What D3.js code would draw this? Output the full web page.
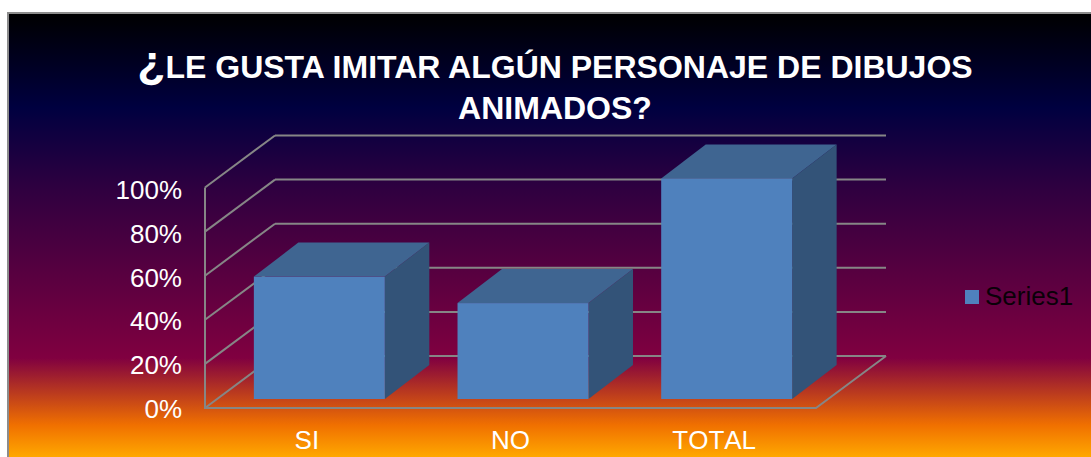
<!DOCTYPE html>
<html>
  <head>
    <title>Le gusta imitar</title>
    <script src="https://d3js.org/d3.v7.min.js"></script>
  </head>
  <style>
    html, body { margin: 0; padding: 0; background: #fff; }
    svg { display: block; }
    text { font-family: "Liberation Sans", Arial, sans-serif; font-kerning: none; }
    .title text { font-kerning: normal; }
    .domain { stroke: none; }
  </style>
  <body>
    <svg id="chart" width="1091" height="457"></svg>

    <script>
      var categories = ["SI", "NO", "TOTAL"];
      var seriesName = "Series1";
      var seriesValues = [0.555, 0.435, 1];
      var yTicks = [0, 0.2, 0.4, 0.6, 0.8, 1];
      var titleLines = ["LE GUSTA IMITAR ALGÚN PERSONAJE DE DIBUJOS", "ANIMADOS?"];

      var svg = d3.select("#chart");

      // background gradient, same stops as the slide fill
      var stops = [
        [0, "#000000"], [0.214, "#000040"], [0.4, "#300040"], [0.777, "#800040"],
        [0.928, "#f07000"], [1, "#ffa800"]
      ];
      var grad = svg.append("defs").append("linearGradient")
        .attr("id", "bg").attr("gradientUnits", "userSpaceOnUse")
        .attr("x1", 0).attr("y1", 13).attr("x2", 0).attr("y2", 457);
      stops.forEach(s => grad.append("stop").attr("offset", s[0]).attr("stop-color", s[1]));

      svg.append("rect").attr("x", 8).attr("y", 13).attr("width", 1090).attr("height", 450)
        .attr("fill", "url(#bg)").attr("stroke", "#8c8c8c").attr("stroke-width", 2);

      var xScale = d3.scaleBand().domain(categories).range([205, 816])
        .paddingInner(0.357).paddingOuter(0.1785);
      var yScale = d3.scaleLinear().domain([0, 1]).range([408, 187.5]);
      // tick labels sit a little tighter than the wall lines
      var yLabelScale = d3.scaleLinear().domain([0, 1]).range([408, 189.5]);

      // fake 3d offsets
      var wallDx = 70, wallDy = -52;
      var barDx = 44.5, barDy = -34;
      var shiftX = 12.5, shiftY = -9;

      var gridColor = "#868686";
      var line = d3.line();

      var walls = svg.append("g").attr("fill", "none").attr("stroke", gridColor).attr("stroke-width", 2);

      yTicks.forEach(t => {
        var y = yScale(t);
        // left wall
        walls.append("path").attr("d", line([[205, y], [205 + wallDx, y + wallDy]]));
        // back wall
        walls.append("path").attr("d", line([[205 + wallDx, y + wallDy], [816 + wallDx, y + wallDy]]));
      });
      walls.append("path").attr("d", line([[205, yScale(1)], [205, yScale(0)], [816, yScale(0)], [816 + wallDx, yScale(0) + wallDy]]));

      // bars, back faces first
      var bars = svg.append("g").selectAll("g").data(categories).enter().append("g");

      function front(i) {
        var x0 = xScale(categories[i]) + shiftX;
        return {
          x0: x0,
          x1: x0 + xScale.bandwidth(),
          top: yScale(seriesValues[i]) + shiftY,
          bottom: yScale(0) + shiftY
        };
      }

      bars.append("path")
        .attr("fill", "#335378")
        .attr("d", (d, i) => {
          var f = front(i);
          return line([[f.x1, f.top], [f.x1 + barDx, f.top + barDy], [f.x1 + barDx, f.bottom + barDy], [f.x1, f.bottom]]) + "Z";
        });

      bars.append("path")
        .attr("fill", "#3f6591")
        .attr("d", (d, i) => {
          var f = front(i);
          return line([[f.x0, f.top], [f.x0 + barDx, f.top + barDy], [f.x1 + barDx, f.top + barDy], [f.x1, f.top]]) + "Z";
        });

      bars.append("rect")
        .attr("fill", "#4f81bd")
        .attr("x", (d, i) => front(i).x0)
        .attr("y", (d, i) => front(i).top)
        .attr("width", xScale.bandwidth())
        .attr("height", (d, i) => front(i).bottom - front(i).top);

      var yAxis = d3.axisLeft(yLabelScale).tickValues(yTicks).tickSize(0).tickPadding(0).tickFormat(d3.format(".0%"));
      var yG = svg.append("g").attr("transform", "translate(182,0)").call(yAxis);
      yG.selectAll("text").attr("fill", "#fff").style("font-size", "26px").attr("dy", "0.36em");

      var xAxis = d3.axisBottom(xScale).tickSize(0).tickPadding(0);
      var xG = svg.append("g").attr("transform", "translate(0,431)").call(xAxis);
      xG.selectAll("text").attr("fill", "#fff").style("font-size", "26px").attr("dy", "0.71em");

      var title = svg.append("g").attr("class", "title").selectAll("text").data(titleLines).enter().append("text")
        .attr("x", 555)
        .attr("y", (d, i) => 77.5 + i * 41.5)
        .attr("text-anchor", "middle")
        .attr("fill", "#fff")
        .style("font-size", "32px")
        .style("font-weight", "bold");
      // the opening mark is drawn bigger than the rest of the line
      title.filter((d, i) => i === 0).append("tspan").style("font-size", "46px").text("¿");
      title.append("tspan").text(d => d);

      // legend
      svg.append("rect").attr("x", 965).attr("y", 290).attr("width", 14).attr("height", 14).attr("fill", "#4f81bd");
      svg.append("text").attr("x", 985).attr("y", 305).attr("fill", "#0a0008").style("font-size", "26px").text(seriesName);
    </script>
  </body>
</html>
